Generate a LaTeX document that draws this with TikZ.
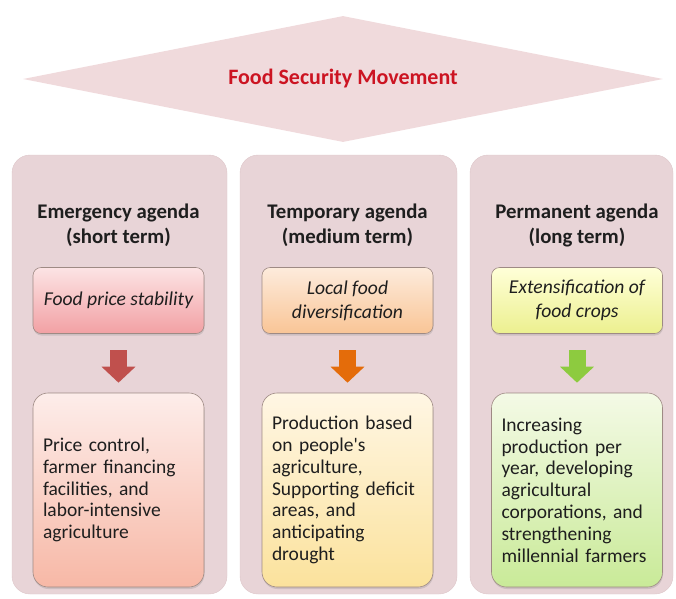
\documentclass[tikz,border=0pt]{standalone}
\usepackage{fontspec}
\setmainfont{Carlito}
\usetikzlibrary{shapes.geometric,arrows.meta,shadows}
\definecolor{bannerfill}{HTML}{F0DADC}
\definecolor{bannertext}{HTML}{CC1422}
\definecolor{panelfill}{HTML}{E8D4D7}
\definecolor{paneledge}{HTML}{DDC6C9}
\definecolor{boxedge}{HTML}{9E8A84}
\definecolor{inktext}{HTML}{1E1E1E}
\definecolor{redtop}{HTML}{FCE4E4}
\definecolor{redbot}{HTML}{F2A0A4}
\definecolor{orangetop}{HTML}{FDEBDC}
\definecolor{orangebot}{HTML}{F9C596}
\definecolor{yellowtop}{HTML}{FFFFD8}
\definecolor{yellowbot}{HTML}{ECF08F}
\definecolor{salmontop}{HTML}{FDEDEA}
\definecolor{salmonbot}{HTML}{F7B8A6}
\definecolor{creamtop}{HTML}{FFF6E4}
\definecolor{creambot}{HTML}{FBE29C}
\definecolor{greentop}{HTML}{F4FAE6}
\definecolor{greenbot}{HTML}{C9EA98}
\definecolor{redarrow}{HTML}{C0504D}
\definecolor{orangearrow}{HTML}{E46C0A}
\definecolor{greenarrow}{HTML}{8DCB3F}

\begin{document}
\begin{tikzpicture}[x=1pt, y=-1pt,
    banner/.style={diamond, aspect=5, fill=bannerfill, inner sep=0pt,
        minimum width=640pt, minimum height=126pt,
        text=bannertext, font=\fontsize{22}{26}\selectfont\bfseries},
    panel/.style={draw=paneledge, fill=panelfill, rounded corners=18pt,
        minimum height=439pt},
    heading/.style={align=center, text=inktext,
        font=\fontsize{20.8}{25}\selectfont\bfseries},
    focusbox/.style={draw=boxedge, line width=0.6pt, rounded corners=8pt,
        minimum width=171pt, minimum height=66pt, align=center, text=inktext,
        font=\fontsize{19.6}{24}\selectfont\itshape,
        drop shadow={shadow xshift=0.5pt, shadow yshift=-2pt, opacity=0.25}},
    actionbox/.style={draw=boxedge, line width=0.6pt, rounded corners=15pt,
        text width=151pt, inner xsep=10pt, minimum height=194pt, align=left,
        text=inktext, font=\fontsize{19.5}{21.8}\selectfont,
        drop shadow={shadow xshift=0.5pt, shadow yshift=-2pt, opacity=0.25}},
    blockarrow/.style={line width=17pt, draw=#1,
        -{Triangle[width=33pt, length=16pt]},
        shorten <=16.5pt, shorten >=10pt}
]
\useasboundingbox (0,0) rectangle (676,598);

\node[banner] (movement) at (343,79) {Food Security Movement};

\node[panel, minimum width=215pt] (emergency) at (119.5,374.5) {};
\node[panel, minimum width=217pt] (temporary) at (348.5,374.5) {};
\node[panel, minimum width=203pt] (permanent) at (571.5,374.5) {};

\node[heading] (emergencyhead) at (118.5,225.5) {Emergency agenda\\(short term)};
\node[heading] (temporaryhead) at (347.5,225.5) {Temporary agenda\\(medium term)};
\node[heading] (permanenthead) at (577,225.5) {Permanent agenda\\(long term)};

\node[focusbox, top color=redtop, bottom color=redbot] (pricefocus) at (118.5,300.5)
    {Food price stability};
\node[focusbox, top color=orangetop, bottom color=orangebot] (localfocus) at (347.5,300.5)
    {Local food\\diversification};
\node[focusbox, top color=yellowtop, bottom color=yellowbot] (cropfocus) at (577,300.5)
    {Extensification of\\food crops};

\node[actionbox, top color=salmontop, bottom color=salmonbot] (priceaction) at (118.5,490)
    {Price control,\\farmer financing\\facilities, and\\labor-intensive\\agriculture};
\node[actionbox, top color=creamtop, bottom color=creambot] (localaction) at (347.5,490)
    {Production based\\on people\textquotesingle s\\agriculture,\\Supporting deficit\\areas, and\\anticipating\\drought};
\node[actionbox, top color=greentop, bottom color=greenbot] (cropaction) at (577,490)
    {Increasing\\production per\\year, developing\\agricultural\\corporations, and\\strengthening\\millennial farmers};

\draw[blockarrow=redarrow] (pricefocus) -- (priceaction);
\draw[blockarrow=orangearrow] (localfocus) -- (localaction);
\draw[blockarrow=greenarrow] (cropfocus) -- (cropaction);
\end{tikzpicture}
\end{document}
